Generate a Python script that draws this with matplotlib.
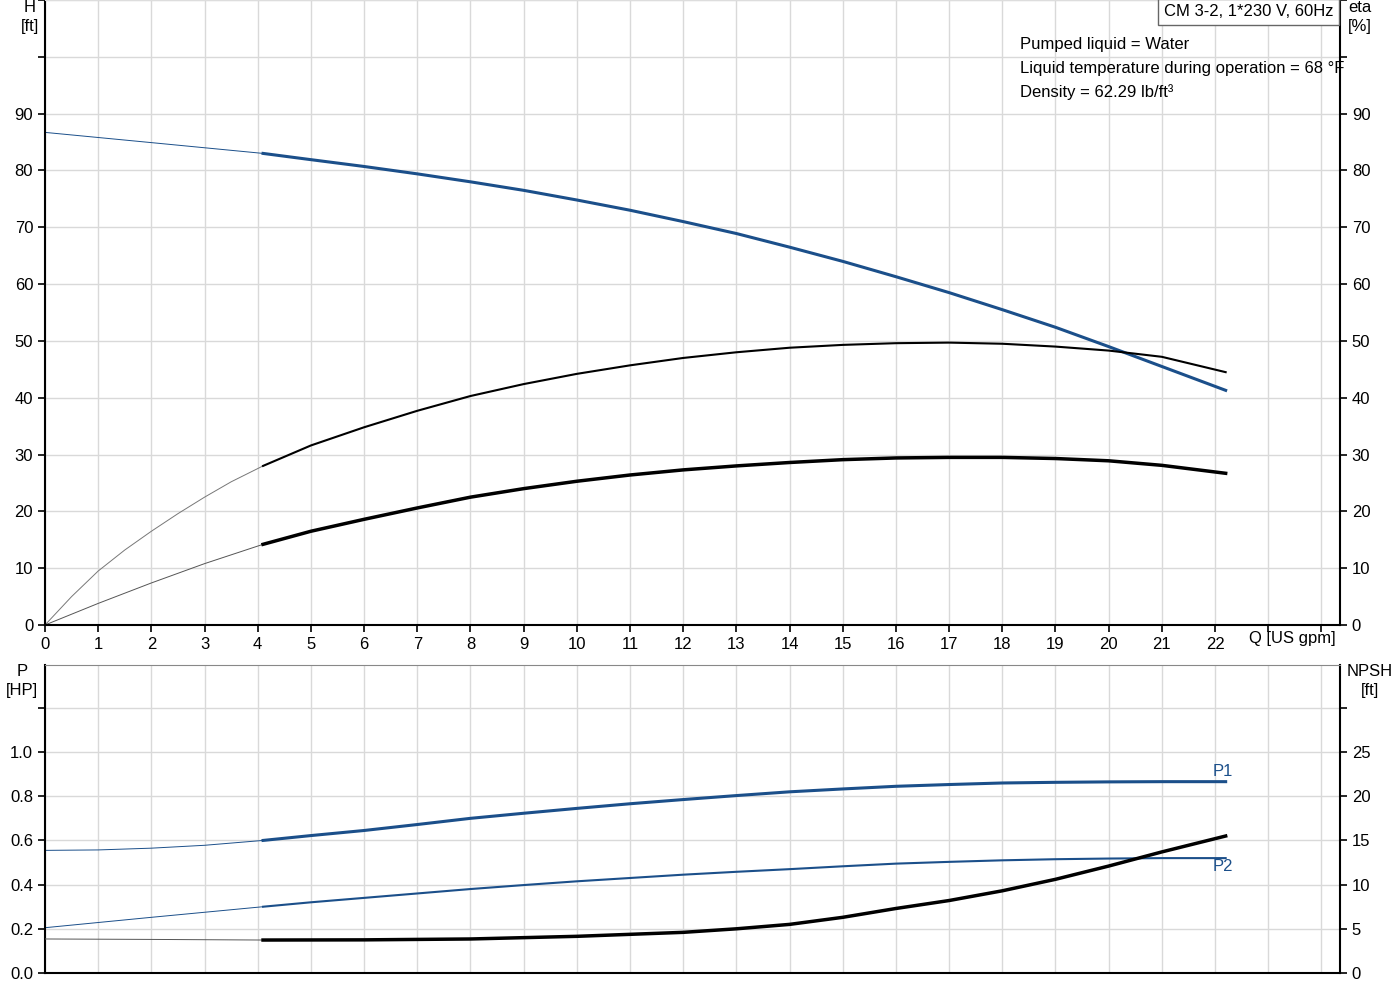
import matplotlib
matplotlib.use("Agg")
import matplotlib.pyplot as plt

plt.rcParams['font.family'] = ['Arial', 'Liberation Sans', 'DejaVu Sans']
BLUE = '#1b4f8a'
FS = 12

# H curve
q_h_thin = [0, 2, 4.1]
h_thin = [86.7, 84.9, 83.0]
q_h = [4.1, 5, 6, 7, 8, 9, 10, 11, 12, 13, 14, 15, 16, 17, 18, 19, 20, 21, 22.2]
h = [83.0, 81.9, 80.7, 79.4, 78.0, 76.5, 74.8, 73.0, 71.0, 68.9, 66.5, 64.0, 61.3, 58.5, 55.5, 52.4, 49.0, 45.5, 41.3]
# eta pump
q_e_thin = [0, 0.5, 1, 1.5, 2, 2.5, 3, 3.5, 4.1]
e_thin = [0, 5.0, 9.5, 13.2, 16.5, 19.6, 22.5, 25.2, 28.0]
q_e = [4.1, 5, 6, 7, 8, 9, 10, 11, 12, 13, 14, 15, 16, 17, 18, 19, 20, 21, 22.2]
e = [28.0, 31.6, 34.8, 37.7, 40.3, 42.4, 44.2, 45.7, 47.0, 48.0, 48.8, 49.3, 49.6, 49.7, 49.5, 49.0, 48.3, 47.2, 44.5]
# eta total
q_t_thin = [0, 1, 2, 3, 4.1]
t_thin = [0, 3.8, 7.4, 10.8, 14.2]
q_t = [4.1, 5, 6, 7, 8, 9, 10, 11, 12, 13, 14, 15, 16, 17, 18, 19, 20, 21, 22.2]
t = [14.2, 16.5, 18.6, 20.6, 22.5, 24.0, 25.3, 26.4, 27.3, 28.0, 28.6, 29.1, 29.4, 29.5, 29.5, 29.3, 28.9, 28.1, 26.7]
# P1
q_p1_thin = [0, 1, 2, 3, 4.1]
p1_thin = [0.555, 0.557, 0.565, 0.578, 0.600]
q_p = [4.1, 5, 6, 7, 8, 9, 10, 11, 12, 13, 14, 15, 16, 17, 18, 19, 20, 21, 22.2]
p1 = [0.600, 0.622, 0.645, 0.672, 0.700, 0.723, 0.745, 0.766, 0.785, 0.803, 0.820, 0.833, 0.845, 0.853, 0.860, 0.863, 0.865, 0.866, 0.866]
q_p2_thin = [0, 2, 4.1]
p2_thin = [0.205, 0.252, 0.300]
p2 = [0.300, 0.320, 0.340, 0.360, 0.380, 0.398, 0.415, 0.430, 0.445, 0.458, 0.470, 0.483, 0.495, 0.503, 0.510, 0.515, 0.518, 0.520, 0.520]
# NPSH
q_n_thin = [0, 2, 4.1]
n_thin = [3.85, 3.80, 3.73]
q_n = [4.1, 6, 8, 10, 12, 13, 14, 15, 16, 17, 18, 19, 20, 21, 22.2]
npsh = [3.73, 3.75, 3.85, 4.15, 4.6, 5.0, 5.5, 6.3, 7.3, 8.2, 9.3, 10.6, 12.1, 13.7, 15.5]

fig = plt.figure(figsize=(14, 10), dpi=100)
ax1 = fig.add_axes([45/1400, 0.375, 1295/1400, 0.625])
ax2 = fig.add_axes([45/1400, 0.027, 1295/1400, 0.308])

xmax = 24.35
for ax in (ax1, ax2):
    ax.set_xlim(0, xmax)
    ax.set_xticks(range(0, 25))
    ax.grid(True, color='#d9d9d9', lw=1)
    ax.set_axisbelow(True)
    ax.spines['top'].set_color('#888888')
    for s in ('left', 'right', 'bottom'):
        ax.spines[s].set_linewidth(1.5)
        ax.spines[s].set_color('black')
    ax.tick_params(labelsize=FS, length=5, width=1.2)
ax1.spines['top'].set_color('#dddddd')

ax1.set_ylim(0, 110)
ax1.set_yticks(range(0, 111, 10))
ax1.set_yticklabels([str(v) if v <= 90 else '' for v in range(0, 111, 10)])
ax1.set_xticklabels([str(v) if v <= 22 else '' for v in range(0, 25)])
r1 = ax1.twinx()
r1.set_ylim(0, 110)
r1.set_yticks(range(0, 111, 10))
r1.set_yticklabels([str(v) if v <= 90 else '' for v in range(0, 111, 10)])
r1.tick_params(labelsize=FS, length=5, width=1.2)
for s in r1.spines.values():
    s.set_visible(False)

ax1.plot(q_h_thin, h_thin, color=BLUE, lw=0.7)
ax1.plot(q_h, h, color=BLUE, lw=2.2)
ax1.plot(q_e_thin, e_thin, color='#777777', lw=0.7)
ax1.plot(q_e, e, color='black', lw=1.5)
ax1.plot(q_t_thin, t_thin, color='#555555', lw=0.7)
ax1.plot(q_t, t, color='black', lw=2.5)

fig.text(1292/1400, 1 - 639/1000, 'Q [US gpm]', fontsize=FS, ha='center', va='center')
fig.text(30/1400, 1 - 8/1000, 'H', ha='center', va='center', fontsize=FS)
fig.text(30/1400, 1 - 26/1000, '[ft]', ha='center', va='center', fontsize=FS)
fig.text(1360/1400, 1 - 8/1000, 'eta', ha='center', va='center', fontsize=FS)
fig.text(1360/1400, 1 - 26/1000, '[%]', ha='center', va='center', fontsize=FS)
fig.text(1333/1400, 1 - 12/1000, 'CM 3-2, 1*230 V, 60Hz', ha='right', va='center',
         fontsize=FS, bbox=dict(boxstyle='square,pad=0.35', fc='white', ec='#666666', lw=1))
for i, s in enumerate(['Pumped liquid = Water', 'Liquid temperature during operation = 68 °F',
                       'Density = 62.29 lb/ft³']):
    fig.text(1020/1400, 1 - (44 + 24*i)/1000, s, ha='left', va='center', fontsize=FS)

ax2.set_ylim(0, 1.394)
yt = [0, 0.2, 0.4, 0.6, 0.8, 1.0, 1.2]
ax2.set_yticks(yt)
ax2.set_yticklabels(['0.0', '0.2', '0.4', '0.6', '0.8', '1.0', ''])
ax2.set_xticklabels([])
ax2.tick_params(axis='x', length=0)
r2 = ax2.twinx()
r2.set_ylim(0, 1.394 * 25)
r2.set_yticks([0, 5, 10, 15, 20, 25, 30])
r2.set_yticklabels(['0', '5', '10', '15', '20', '25', ''])
r2.tick_params(labelsize=FS, length=5, width=1.2)
for s in r2.spines.values():
    s.set_visible(False)

ax2.plot(q_p1_thin, p1_thin, color=BLUE, lw=0.7)
ax2.plot(q_p, p1, color=BLUE, lw=2.2)
ax2.plot(q_p2_thin, p2_thin, color=BLUE, lw=0.7)
ax2.plot(q_p, p2, color=BLUE, lw=1.5)
r2.plot(q_n_thin, n_thin, color='#555555', lw=0.7)
r2.plot(q_n, npsh, color='black', lw=2.5)
ax2.text(22.15, 0.88, 'P1', color=BLUE, fontsize=FS, ha='center', va='bottom')
ax2.text(22.15, 0.515, 'P2', color=BLUE, fontsize=FS, ha='center', va='top')

fig.text(22/1400, 1 - 672/1000, 'P', ha='center', va='center', fontsize=FS)
fig.text(22/1400, 1 - 690/1000, '[HP]', ha='center', va='center', fontsize=FS)
fig.text(1370/1400, 1 - 672/1000, 'NPSH', ha='center', va='center', fontsize=FS)
fig.text(1370/1400, 1 - 690/1000, '[ft]', ha='center', va='center', fontsize=FS)

fig.savefig('out.png', dpi=100)
